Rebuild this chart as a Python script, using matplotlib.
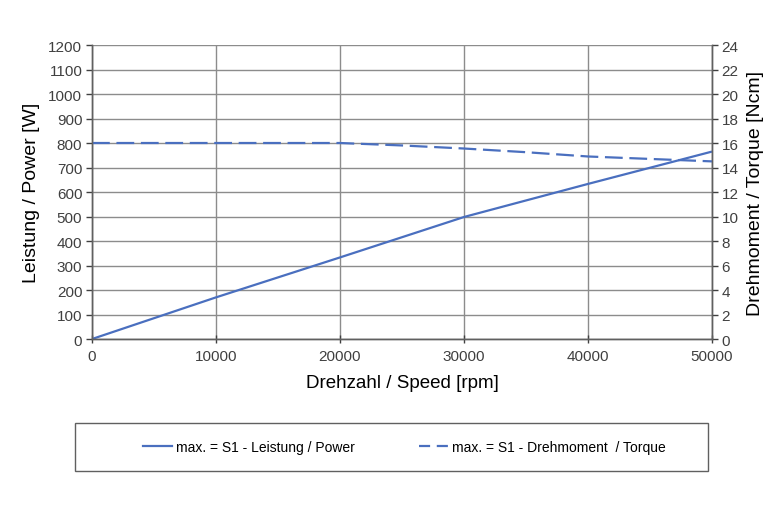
import matplotlib.pyplot as plt
from matplotlib.patches import Rectangle
from matplotlib.lines import Line2D

plt.rcParams['font.family'] = ['Liberation Sans', 'DejaVu Sans']

# values
speed_power = [0, 10000, 20000, 30000, 40000, 50000]
power = [0, 170, 333, 498, 633, 765]

speed_torque = [0, 20000, 25000, 30000, 35000, 40000, 45000, 50000]
torque = [16, 16, 15.8, 15.55, 15.25, 14.9, 14.7, 14.5]

label_power = "max. = S1 - Leistung / Power"
label_torque = "max. = S1 - Drehmoment  / Torque"

blue = "#4a6fbf"
grid_col = "#8c8c8c"
tick_col = "#404040"

fig = plt.figure(figsize=(7.83, 5.10), dpi=100)
ax = fig.add_axes([0.1175, 0.3333, 0.7918, 0.5765])
ax2 = ax.twinx()

ax.plot(speed_power, power, color=blue, lw=1.6, solid_capstyle='butt')
ax2.plot(speed_torque, torque, color=blue, lw=1.6, dashes=(8, 3))

ax.set_xlim(0, 50000)
ax.set_ylim(0, 1200)
ax2.set_ylim(0, 24)
ax.set_xticks(range(0, 50001, 10000))
ax.set_yticks(range(0, 1201, 100))
ax2.set_yticks(range(0, 25, 2))

ax.grid(True, color=grid_col, lw=1)
ax.set_axisbelow(True)

for a in (ax, ax2):
    a.spines['top'].set_visible(False)
    for s in a.spines.values():
        s.set_color('#606060')
        s.set_linewidth(1)
    a.tick_params(colors=tick_col, labelsize=11, length=4, width=1)
ax.tick_params(axis='x', direction='inout', length=6, pad=4)
ax.tick_params(axis='y', direction='out', pad=3)
ax2.tick_params(axis='y', direction='out', pad=3)

ax.set_xlabel("Drehzahl / Speed [rpm]", fontsize=13.5, labelpad=8)
ax.set_ylabel("Leistung / Power [W]", fontsize=14, labelpad=6)
ax2.set_ylabel("Drehmoment / Torque [Ncm]", fontsize=14, labelpad=6)

# legend box below the chart
fig.patches.append(Rectangle((75 / 783, 1 - 472 / 510), 633 / 783, 48 / 510,
                             transform=fig.transFigure, fill=False,
                             edgecolor='#606060', lw=1))
handles = [Line2D([], [], color=blue, lw=1.6),
           Line2D([], [], color=blue, lw=1.6, dashes=(5, 3))]
fig.legend(handles, [label_power, label_torque], loc='center',
           bbox_to_anchor=(0.5166, 1 - 448 / 510), ncol=2, frameon=False,
           fontsize=10, handlelength=2.1, handletextpad=0.3, columnspacing=4.6)

fig.savefig("out.png", dpi=100)
